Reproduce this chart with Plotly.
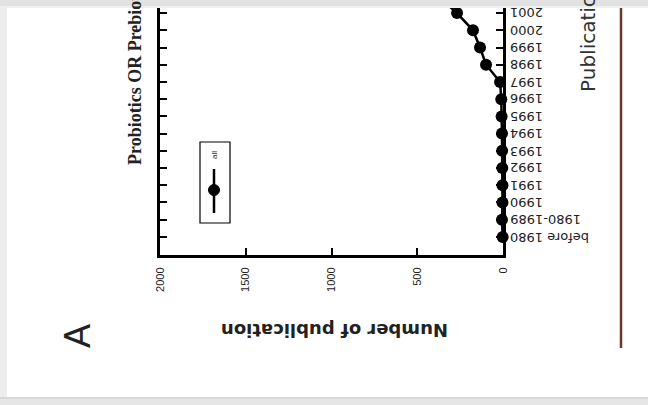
import plotly.graph_objects as go

# ---- data ----
categories = ["before 1980", "1980-1989", "1990", "1991", "1992", "1993", "1994",
              "1995", "1996", "1997", "1998", "1999", "2000", "2001", "2002"]
publications = [2, 6, 3, 3, 4, 5, 6, 8, 10, 17, 99, 134, 175, 268, 380]
value_ticks = [0, 500, 1000, 1500, 2000]
series_name = "all"

# ---- layout geometry ----
W, H = 648, 405
L, R, T, B = 160, 145, 0, 150
PW = W - L - R
PH = H - T - B


def px(x):
    return (x - L) / PW


def py(y):
    return (H - B - y) / PH


fig = go.Figure()
fig.add_trace(go.Scatter(
    x=publications, y=categories, mode="lines+markers", name=series_name,
    line=dict(color="black", width=2.5),
    marker=dict(color="black", size=12),
    cliponaxis=False, showlegend=False,
))

fig.update_yaxes(
    type="category", categoryorder="array", categoryarray=categories,
    range=[-1.05, 13.76], side="right",
    showline=True, linecolor="black", linewidth=3, mirror="ticks",
    ticks="inside", ticklen=7, tickwidth=2, tickcolor="black",
    showticklabels=False,
    showgrid=False, zeroline=False,
)
fig.update_xaxes(
    range=[2000, 0], tickvals=value_ticks, ticktext=[str(v) for v in value_ticks],
    ticks="inside", ticklen=7, tickwidth=2, tickcolor="black",
    showline=True, linecolor="black", linewidth=3, mirror=False,
    tickangle=-90, ticklabelstandoff=5,
    tickfont=dict(family="Liberation Sans, Arial", size=11, color="#222"),
    showgrid=False, zeroline=False,
)

shapes = []
# legend box
shapes.append(dict(type="rect", xref="paper", yref="paper",
                   x0=px(200), x1=px(230), y0=py(223), y1=py(142),
                   line=dict(color="black", width=1.2), fillcolor="white", layer="above"))
shapes.append(dict(type="line", xref="paper", yref="paper",
                   x0=px(214), x1=px(214), y0=py(213), y1=py(169),
                   line=dict(color="black", width=2.5), layer="above"))
shapes.append(dict(type="circle", xref="paper", yref="paper",
                   x0=px(208.5), x1=px(219.5), y0=py(195.5), y1=py(184.5),
                   line=dict(color="black", width=1), fillcolor="black", layer="above"))
# brown vertical line at right
shapes.append(dict(type="line", xref="paper", yref="paper",
                   x0=px(621), x1=px(621), y0=py(348), y1=py(0),
                   line=dict(color="#6b3b2a", width=2.5), layer="above"))
# page/card shadows
shapes.append(dict(type="rect", xref="paper", yref="paper",
                   x0=px(0), x1=px(648), y0=py(6), y1=py(0),
                   line=dict(width=0), fillcolor="#e2e2e2", layer="above"))
shapes.append(dict(type="rect", xref="paper", yref="paper",
                   x0=px(0), x1=px(648), y0=py(8), y1=py(6),
                   line=dict(width=0), fillcolor="#f0f0f0", layer="above"))
shapes.append(dict(type="rect", xref="paper", yref="paper",
                   x0=px(0), x1=px(648), y0=py(405), y1=py(397),
                   line=dict(width=0), fillcolor="#e6e6e6", layer="above"))
shapes.append(dict(type="rect", xref="paper", yref="paper",
                   x0=px(0), x1=px(648), y0=py(399), y1=py(397),
                   line=dict(width=0), fillcolor="#d6d6d6", layer="above"))
shapes.append(dict(type="rect", xref="paper", yref="paper",
                   x0=px(0), x1=px(7), y0=py(397), y1=py(6),
                   line=dict(width=0), fillcolor="#ededed", layer="above"))

annotations = [
    dict(text="<b>Number of publication</b>", x=px(335), y=py(331), xref="paper", yref="paper",
         showarrow=False, textangle=180, xanchor="center", yanchor="middle",
         font=dict(family="DejaVu Sans", size=18, color="#222")),
    dict(text="A", x=px(77), y=py(336), xref="paper", yref="paper",
         showarrow=False, textangle=-90, xanchor="center", yanchor="middle",
         font=dict(family="Liberation Sans, Arial", size=36, color="#222")),
    dict(text="<b>Probiotics OR Prebiotics</b>", x=px(135), y=py(167), xref="paper", yref="paper",
         showarrow=False, textangle=-90, xanchor="center", yanchor="bottom",
         font=dict(family="Liberation Serif, Times New Roman", size=18, color="#222")),
    dict(text="Publication year", x=px(588), y=py(94), xref="paper", yref="paper",
         showarrow=False, textangle=-90, xanchor="center", yanchor="bottom",
         font=dict(family="DejaVu Sans", size=20, color="#333")),
    dict(text=series_name, x=px(214), y=py(155), xref="paper", yref="paper",
         showarrow=False, textangle=-90, xanchor="center", yanchor="middle",
         font=dict(family="Liberation Sans, Arial", size=8, color="#222")),
]
# category labels (upside-down, left-aligned next to the right axis),
# placed at each category's index on the y axis
for i, c in enumerate(categories):
    annotations.append(dict(
        text=c, x=px(508), y=i, xref="paper", yref="y",
        showarrow=False, textangle=180, xanchor="left", yanchor="middle",
        font=dict(family="DejaVu Sans", size=13, color="#222")))

fig.update_layout(
    width=W, height=H, autosize=False,
    margin=dict(l=L, r=R, t=T, b=B, pad=0),
    paper_bgcolor="white", plot_bgcolor="rgba(0,0,0,0)",
    shapes=shapes, annotations=annotations, showlegend=False,
)

fig.write_html("out.html", config={"displayModeBar": False},
               post_script="document.body.style.margin='0px';")
